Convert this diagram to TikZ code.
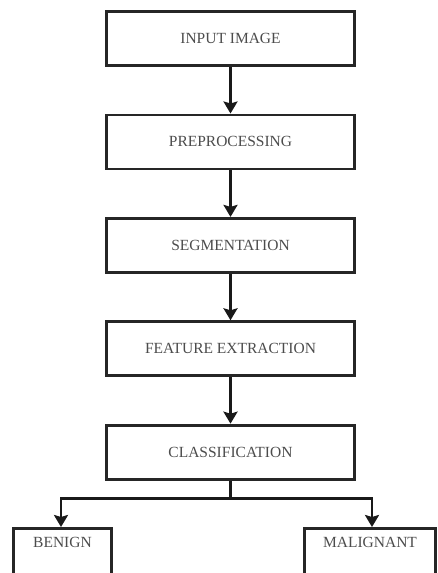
\documentclass[tikz,border=0pt]{standalone}
\usepackage{fontspec}
\setmainfont{Liberation Serif}
\usetikzlibrary{arrows.meta}
\usetikzlibrary{positioning}
\usetikzlibrary{chains}
\tikzset{
	>={Stealth[length=12pt,width=14pt,inset=2pt]},
	stepbox/.style={
		rectangle,
		draw=black!85, line width=2.8pt,
		minimum width=248pt,
		minimum height=54pt,
		text=black!70,
		font=\fontsize{15.5}{18}\selectfont,
		text centered,
		on chain},
	leafbox/.style={
		rectangle,
		draw=black!85, line width=2.8pt,
		anchor=north,
		inner ysep=8.5pt,
		text depth=40pt,
		text=black!70,
		font=\fontsize{15.5}{18}\selectfont},
	line/.style={draw=black!90, line width=2.8pt, ->},
	every join/.style={line},
}
\begin{document}
\begin{tikzpicture}
	[node distance=46.6pt,
	start chain=going below]
	\useasboundingbox (0,0) rectangle (438pt,-573pt);
	\clip (0,0) rectangle (438pt,-573pt);
	\node[stepbox, at={(230.5pt,-38.5pt)}] (input) {INPUT IMAGE};
	\node[stepbox, join] (prep) {PREPROCESSING};
	\node[stepbox, join] (seg) {SEGMENTATION};
	\node[stepbox, join] (feat) {FEATURE EXTRACTION};
	\node[stepbox, join] (class) {CLASSIFICATION};
	
	\node[leafbox, minimum width=98pt] (benign) at (62.5pt,-527pt) {BENIGN};
	\node[leafbox, minimum width=131pt] (malig) at (370pt,-527pt) {MALIGNANT};
	
	\coordinate (split) at ([yshift=-18pt]class.south);
	\draw[line, -] (class.south) -- (split);
	\draw[line] (split) -| ([xshift=-1.5pt]benign.north);
	\draw[line] (split) -| ([xshift=2pt]malig.north);
\end{tikzpicture}
\end{document}
